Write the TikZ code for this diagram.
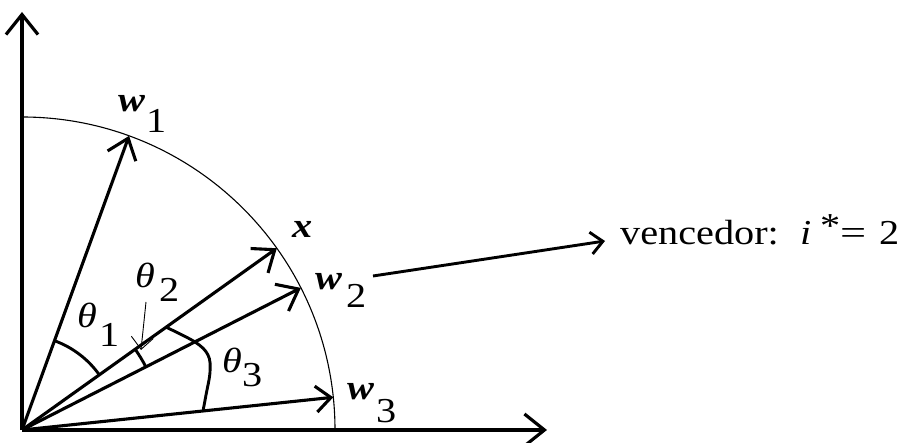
\documentclass[tikz,border=0pt]{standalone}
\usepackage{fontspec}
\usepackage{graphicx}
\setmainfont{Liberation Serif}
\usetikzlibrary{arrows.meta}
\newcommand\hs[1]{\scalebox{1.15}[1]{#1}}
\begin{document}
\begin{tikzpicture}[x=1pt,y=1pt,
  vec/.style={line width=3.1pt, -{Straight Barb[length=19pt,width=30pt]}},
  axis/.style={line width=3.2pt, -{Straight Barb[length=20pt,width=32pt]}},
  ang/.style={line width=2.9pt},
  lbl/.style={inner sep=0pt, anchor=base west, font=\fontsize{35}{42}\selectfont},
  bi/.style={lbl, font=\fontsize{35}{42}\selectfont\bfseries\itshape},
  it/.style={lbl, font=\fontsize{35}{42}\selectfont\itshape},
]
\useasboundingbox (-22,-13) rectangle (883,430);
\coordinate (O) at (0,0);
\coordinate (ytop) at (0,418);
\coordinate (xend) at (525,0);
\coordinate (tw1) at (70:313);
\coordinate (tx) at (35.5:313);
\coordinate (tw2) at (27:313);
\coordinate (tw3) at (6:313);

% axes
\draw[axis] (O) -- (ytop);
\draw[axis] (O) -- (xend);
% unit circle arc
\draw[line width=1.1pt] (313,0) arc[start angle=0, end angle=90, radius=313];

% vectors
\draw[vec] (O) -- (tw1);
\draw[vec] (O) -- (tx);
\draw[vec] (O) -- (tw2);
\draw[vec, -{Straight Barb[length=15pt,width=26pt]}] (O) -- (tw3);

% angle arcs
\draw[ang] (35.5:95) arc[start angle=35.5, end angle=70, radius=95];
\draw[ang] (27:139) arc[start angle=27, end angle=35.5, radius=139];
\draw[ang] plot[smooth, tension=0.6] coordinates {(35.5:177) (173,88) (186,75) (188,58) (184,35) (6:182)};

% theta2 pointer
\coordinate (pt0) at (124,128);
\coordinate (pt1) at (119,80);
\draw[line width=0.9pt, -{Straight Barb[length=12pt,width=22pt]}] (pt0) -- (pt1);

% labels
\node[bi] (w1) at (96,318) {\hs{w}};
\node[lbl] (w1s) at (124,297) {\hs{1}};
\node[bi] (xl) at (270,192) {\hs{x}};
\node[bi] (w2) at (293,140) {\hs{w}};
\node[lbl] (w2s) at (324,122) {\hs{2}};
\node[bi] (w3) at (325,30) {\hs{w}};
\node[lbl] (w3s) at (354,7) {\hs{3}};
\node[it] (t1) at (55,102) {\hs{θ}};
\node[lbl] (t1s) at (77,83) {\hs{1}};
\node[it] (t2) at (113,142) {\hs{θ}};
\node[lbl] (t2s) at (137,128) {\hs{2}};
\node[it] (t3) at (200,57) {\hs{θ}};
\node[lbl] (t3s) at (220,43) {\hs{3}};

\node[lbl] (venc) at (598,185) {\hs{vencedor:}};
\node[it] (vi) at (778,185) {\hs{i}};
\node[lbl] (vstar) at (798,192) {\hs{*}};
\node[lbl] (veq) at (818,185) {\hs{\scalebox{1.15}[1]{=}}};
\node[lbl] (vtwo) at (857,185) {\hs{2}};

% connector
\coordinate (cstart) at (351,154);
\coordinate (cend) at (583,189);
\draw[line width=2.9pt, -{Straight Barb[length=12pt,width=22pt]}] (cstart) -- (cend);
\end{tikzpicture}
\end{document}
